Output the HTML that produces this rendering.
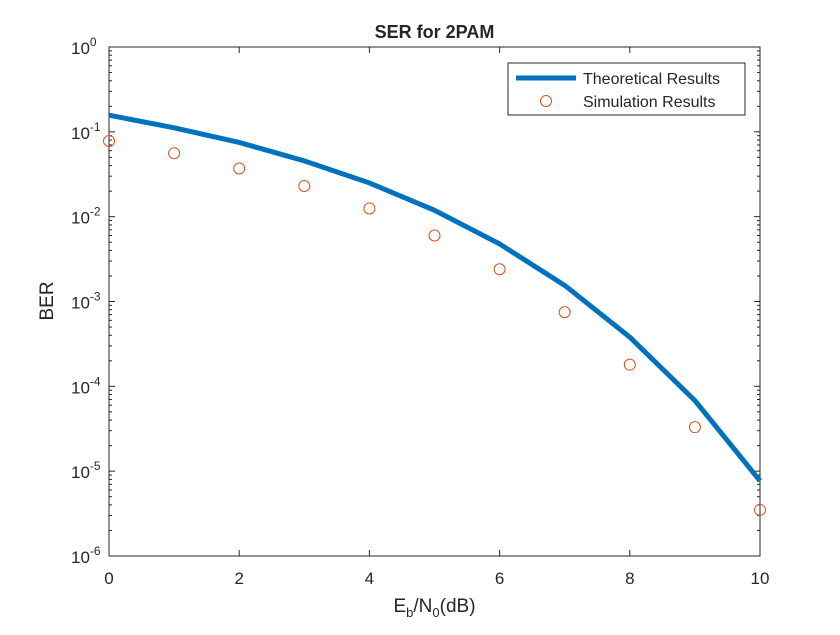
<!DOCTYPE html>
<html><head><meta charset="utf-8"><style>
body{margin:0;background:#fff;}
svg text{font-family:"Liberation Sans",Arial,sans-serif;fill:#262626;}
</style></head><body>
<svg id="chart" width="840" height="630" viewBox="0 0 840 630" xmlns="http://www.w3.org/2000/svg">
<rect width="840" height="630" fill="#fff"/>
<g id="plot"></g>
</svg>
<script>
const snr = [0,1,2,3,4,5,6,7,8,9,10];
const theory = [0.157,0.1116,0.075,0.0455,0.025,0.0119,0.00477,0.00155,0.00038,0.000068,0.0000077];
const sim = [0.078,0.056,0.037,0.023,0.0125,0.006,0.0024,0.00075,0.00018,0.000033,0.0000035];
const xTicks = [0,2,4,6,8,10];
const yExps = [0,-1,-2,-3,-4,-5,-6];

const L=109,R=760,T=47,B=556;
const xs=v=>L+(v-0)/(10-0)*(R-L);
const ys=v=>T+(0-Math.log10(v))/6*(B-T);
const NS='http://www.w3.org/2000/svg';
const g=document.getElementById('plot');
function mk(tag,attrs,parent){const e=document.createElementNS(NS,tag);for(const k in attrs)e.setAttribute(k,attrs[k]);(parent||g).appendChild(e);return e;}

const ax=mk('rect',{x:L,y:T,width:R-L,height:B-T,fill:'#fff',stroke:'#262626','stroke-width':1});



xTicks.forEach(v=>{
  const x=xs(v);
  mk('line',{x1:x,y1:B,x2:x,y2:B-6,stroke:'#262626'});
  mk('line',{x1:x,y1:T,x2:x,y2:T+6,stroke:'#262626'});
  const t=mk('text',{x:x,y:B+28,'text-anchor':'middle','font-size':17});
  t.textContent=v;
  
  
});
yExps.forEach(e=>{
  const y=ys(Math.pow(10,e));
  mk('line',{x1:L,y1:y,x2:L+6,y2:y,stroke:'#262626'});
  mk('line',{x1:R,y1:y,x2:R-6,y2:y,stroke:'#262626'});
  if(e<0){for(let m=2;m<10;m++){const yy=ys(m*Math.pow(10,e));
    mk('line',{x1:L,y1:yy,x2:L+3,y2:yy,stroke:'#262626'});
    mk('line',{x1:R,y1:yy,x2:R-3,y2:yy,stroke:'#262626'});}}
  const t=mk('text',{x:L-38,y:y+7,'font-size':17});
  t.textContent='10';
  const s=mk('tspan',{dy:-8,'font-size':12},t);
  s.textContent=String(e);
  
  
});

const line=mk('polyline',{points:snr.map((v,i)=>xs(v)+','+ys(theory[i])).join(' '),fill:'none',stroke:'#0072BD','stroke-width':5});


snr.forEach((v,i)=>{
  const c=mk('circle',{cx:xs(v),cy:ys(sim[i]),r:5.5,fill:'none',stroke:'#D95319','stroke-width':1});
  
  
});

const title=mk('text',{x:(L+R)/2,y:38,'text-anchor':'middle','font-size':18,'font-weight':'bold'});
title.textContent='SER for 2PAM';



const xl=mk('text',{x:(L+R)/2,y:612,'text-anchor':'middle','font-size':19});
xl.innerHTML='E<tspan dy="5" font-size="13">b</tspan><tspan dy="-5">/N</tspan><tspan dy="5" font-size="13">0</tspan><tspan dy="-5">(dB)</tspan>';



const yl=mk('text',{x:0,y:0,'text-anchor':'middle','font-size':19,transform:'translate(53,301) rotate(-90)'});
yl.textContent='BER';



const lg=mk('g',{});


mk('rect',{x:508,y:63,width:237,height:52,fill:'#fff',stroke:'#262626','stroke-width':1},lg);
mk('line',{x1:516,y1:78,x2:576,y2:78,stroke:'#0072BD','stroke-width':5},lg);
const t1=mk('text',{x:583,y:84,'font-size':16},lg);t1.textContent='Theoretical Results';


mk('circle',{cx:546,cy:101,r:5.5,fill:'none',stroke:'#D95319'},lg);
const t2=mk('text',{x:583,y:107,'font-size':16},lg);t2.textContent='Simulation Results';


</script>
</body></html>
